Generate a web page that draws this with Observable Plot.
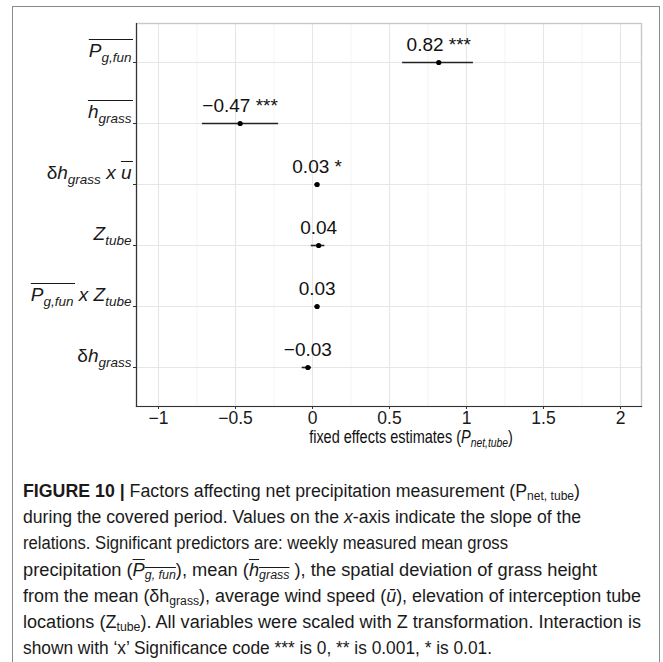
<!DOCTYPE html>
<html>
<head>
<meta charset="utf-8">
<script src="https://cdn.jsdelivr.net/npm/d3@7"></script>
<script src="https://cdn.jsdelivr.net/npm/@observablehq/plot@0.6"></script>
<style>
  html, body { margin: 0; padding: 0; background: #fff; }
  body { width: 663px; height: 662px; overflow: hidden; position: relative; font-family: "Liberation Sans", Arial, sans-serif; }
  #frame { position: absolute; left: 12px; top: 6px; width: 648px; height: 720px; border: 1.5px solid #8a8a8a; box-sizing: border-box; }
  #chart { position: absolute; left: 0; top: 0; }
  #caption { position: absolute; left: 23px; top: 478px; font-size: 18px; line-height: 26.2px; color: #1a1a1a; }
  #caption .ln { white-space: nowrap; height: 26.2px; }
  #caption .ln > span { display: inline-block; transform-origin: 0 0; }
  #caption sub { font-size: 0.68em; vertical-align: -0.28em; line-height: 0; }
  #caption .ol { text-decoration: overline; }
  #caption b { font-weight: bold; }
</style>
</head>
<body>
<div id="frame"></div>
<div id="chart"></div>
<div id="caption"></div>
<script>
// ---- data ----
const terms = ["Pgfun", "hgrass", "dh_x_u", "Ztube", "Pgfun_x_Ztube", "dhgrass"];
const estimates = [0.82, -0.47, 0.03, 0.04, 0.03, -0.03];
const lower = [0.585, -0.715, 0.015, -0.008, 0.015, -0.067];
const upper = [1.045, -0.22, 0.045, 0.08, 0.045, -0.006];
const stars = ["***", "***", "*", "", "", ""];
const xTicks = [-1, -0.5, 0, 0.5, 1, 1.5, 2];
const xTickLabels = ["\u22121", "\u22120.5", "0", "0.5", "1", "1.5", "2"];
const xMinorTicks = [-0.75, -0.25, 0.25, 0.75, 1.25, 1.75];
// y tick label pieces: [text, flags] where i = italic, s = subscript, o = overline
const yLabelParts = [
  [["P", "io"], ["g,fun", "iso"]],
  [["h", "io"], ["grass", "iso"]],
  [["\u03b4", ""], ["h", "i"], ["grass", "is"], [" x ", "i"], ["u", "io"]],
  [["Z", "i"], ["tube", "is"]],
  [["P", "io"], ["g,fun", "iso"], [" x ", "i"], ["Z", "i"], ["tube", "is"]],
  [["\u03b4", ""], ["h", "i"], ["grass", "is"]]
];
const xTitleParts = [["fixed effects estimates (", ""], ["P", "i"], ["net,tube", "is"], [")", ""]];
const captionLines = [
  '<b>FIGURE 10 |</b> Factors affecting net precipitation measurement (P<sub>net, tube</sub>)',
  'during the covered period. Values on the <i>x</i>-axis indicate the slope of the',
  'relations. Significant predictors are: weekly measured mean gross',
  'precipitation (<span class="ol"><i>P<sub>g, fun</sub></i></span>), mean (<span class="ol"><i>h<sub>grass</sub></i></span> ), the spatial deviation of grass height',
  'from the mean (\u03b4h<sub>grass</sub>), average wind speed (<i>\u016b</i>), elevation of interception tube',
  'locations (Z<sub>tube</sub>). All variables were scaled with Z transformation. Interaction is',
  'shown with \u2018x\u2019 Significance code *** is 0, ** is 0.001, * is 0.01.'
];
const captionWidths = [557, 558, 485, 574, 618, 618, 469];

const rows = terms.map((t, i) => ({term: t, est: estimates[i], lo: lower[i], hi: upper[i], stars: stars[i]}));
const fmt = v => (v < 0 ? "\u2212" : "") + Math.abs(v).toFixed(2);

const plot = Plot.plot({
  width: 663,
  height: 470,
  marginLeft: 136,
  marginRight: 22,
  marginTop: 23,
  marginBottom: 64,
  style: {fontFamily: "Liberation Sans, Arial, sans-serif", color: "#1a1a1a", background: "transparent"},
  x: {domain: [-1.1429, 2.1364]},
  y: {type: "point", domain: terms, padding: 0.6},
  marks: [
    Plot.gridX(xMinorTicks, {stroke: "#ededed", strokeOpacity: 1, strokeWidth: 0.6}),
    Plot.gridX(xTicks, {stroke: "#e6e6e6", strokeOpacity: 1, strokeWidth: 1.1}),
    Plot.gridY(terms, {stroke: "#e6e6e6", strokeOpacity: 1, strokeWidth: 1.1}),
    Plot.frame({stroke: "#c8c8c8", strokeWidth: 1.4}),
    Plot.frame({anchor: "left", stroke: "#333", strokeWidth: 1.2}),
    Plot.frame({anchor: "bottom", stroke: "#333", strokeWidth: 1.2}),
    Plot.axisX(xTicks, {tickSize: 3, tickPadding: 2, fontSize: 17.5, label: null, stroke: "#333",
      tickFormat: d => xTickLabels[xTicks.indexOf(d)]}),
    Plot.axisY(terms, {tickSize: 3, tickPadding: 2, fontSize: 19, label: null, stroke: "#333", tickFormat: d => d}),
    Plot.ruleY(rows, {y: "term", x1: "lo", x2: "hi", stroke: "#222", strokeWidth: 1.6}),
    Plot.dot(rows, {x: "est", y: "term", r: 2.6, fill: "#000", stroke: null}),
    Plot.text(rows, {x: "est", y: "term", text: d => fmt(d.est) + (d.stars ? " " + d.stars : ""),
      fontSize: 19, dy: -18, textAnchor: "middle", fill: "#111"})
  ]
});
document.getElementById("chart").appendChild(plot);

const SVGNS = "http://www.w3.org/2000/svg";
function fillRich(textEl, parts, mainSize, subSize, shift) {
  while (textEl.firstChild) textEl.removeChild(textEl.firstChild);
  textEl.style.whiteSpace = "pre";
  let inSub = false;
  const ranges = [];
  let idx = 0;
  parts.forEach(([t, f]) => {
    const ts = document.createElementNS(SVGNS, "tspan");
    ts.textContent = t;
    const sub = f.includes("s");
    ts.setAttribute("font-size", sub ? subSize : mainSize);
    if (f.includes("i")) ts.setAttribute("font-style", "italic");
    if (sub && !inSub) ts.setAttribute("dy", shift);
    if (!sub && inSub) ts.setAttribute("dy", -shift);
    inSub = sub;
    if (f.includes("o")) {
      const last = ranges[ranges.length - 1];
      if (last && last[1] === idx - 1) last[1] = idx + t.length - 1;
      else ranges.push([idx, idx + t.length - 1]);
    }
    idx += t.length;
    textEl.appendChild(ts);
  });
  return ranges;
}
function addOverlines(textEl, ranges, rise) {
  ranges.forEach(([a, b]) => {
    const p0 = textEl.getStartPositionOfChar(a);
    const p1 = textEl.getEndPositionOfChar(b);
    const baseY = p0.y;
    const ln = document.createElementNS(SVGNS, "line");
    ln.setAttribute("x1", p0.x);
    ln.setAttribute("x2", p1.x + 1.5);
    ln.setAttribute("y1", baseY - rise);
    ln.setAttribute("y2", baseY - rise);
    ln.setAttribute("stroke", "#1a1a1a");
    ln.setAttribute("stroke-width", 1);
    const tr = textEl.getAttribute("transform");
    if (tr) ln.setAttribute("transform", tr);
    textEl.parentNode.appendChild(ln);
  });
}

// y tick labels -> rich text
const svg = plot.tagName.toLowerCase() === "svg" ? plot : plot.querySelector("svg");
svg.querySelectorAll('g[aria-label="y-axis tick label"] text').forEach(el => {
  const key = el.textContent;
  const i = terms.indexOf(key);
  if (i < 0) return;
  el.setAttribute("y", "-6");
  el.removeAttribute("dy");
  el.setAttribute("fill", "#1a1a1a");
  const ranges = fillRich(el, yLabelParts[i], 19, 13.5, 5.5);
  addOverlines(el, ranges, 17);
});

// x axis title (condensed to the reference width)
const xt = document.createElementNS(SVGNS, "text");
xt.setAttribute("x", 0);
xt.setAttribute("y", 0);
xt.setAttribute("text-anchor", "middle");
xt.setAttribute("fill", "#111");
xt.setAttribute("font-family", "Liberation Sans, Arial, sans-serif");
fillRich(xt, xTitleParts, 17.5, 12.5, 4);
svg.appendChild(xt);
const tw = xt.getComputedTextLength();
xt.setAttribute("transform", `translate(411,443) scale(${204 / tw},1)`);

// caption
const cap = document.getElementById("caption");
captionLines.forEach((html, i) => {
  const div = document.createElement("div");
  div.className = "ln";
  const span = document.createElement("span");
  span.innerHTML = html;
  div.appendChild(span);
  cap.appendChild(div);
  const w = span.getBoundingClientRect().width;
  span.style.transform = `scaleX(${captionWidths[i] / w})`;
});
</script>
</body>
</html>
